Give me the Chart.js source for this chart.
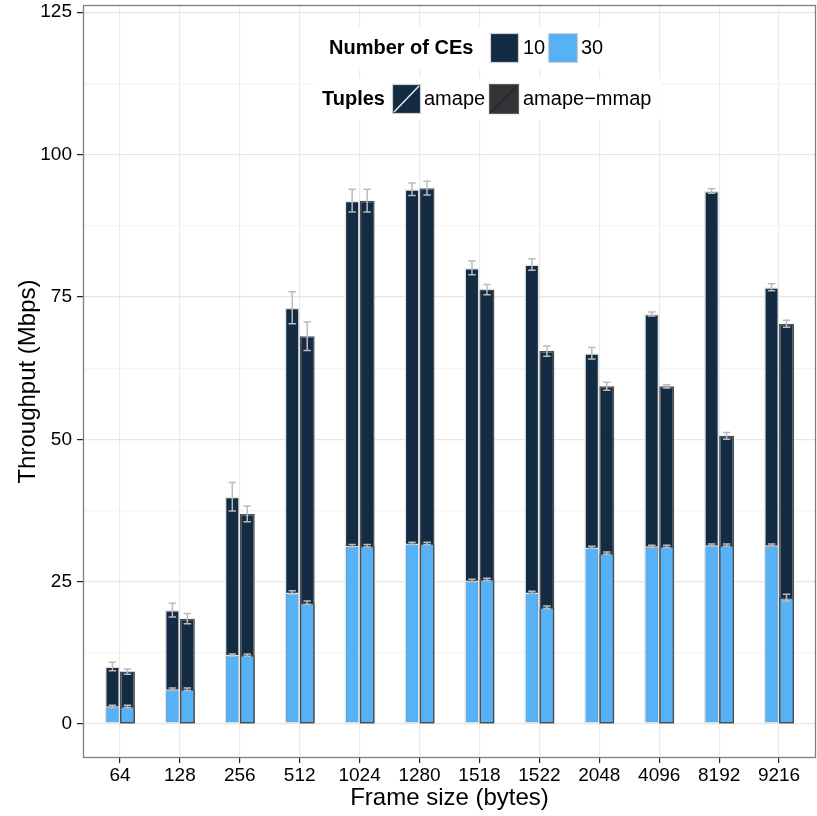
<!DOCTYPE html>
<html><head><meta charset="utf-8">
<script src="https://cdn.jsdelivr.net/npm/chart.js@4/dist/chart.umd.min.js"></script>
<style>html,body{margin:0;padding:0;background:#fff}</style>
</head><body>
<canvas id="c" width="817" height="816"></canvas>
<script>
// ---------- data ----------
const FRAME_SIZES = ['64','128','256','512','1024','1280','1518','1522','2048','4096','8192','9216'];
const AMAPE_CE10     = [10.1, 20.0, 39.9, 73.1, 91.9, 93.9, 80.1, 80.7, 65.1, 72.0, 93.6, 76.7];
const AMAPE_CE10_ERR = [0.75, 1.2, 2.5, 2.8, 2.0, 1.1, 1.2, 1.0, 1.0, 0.35, 0.4, 0.6];
const MMAP_CE10      = [9.2, 18.5, 36.9, 68.1, 91.9, 94.1, 76.3, 65.5, 59.3, 59.3, 50.6, 70.3];
const MMAP_CE10_ERR  = [0.45, 0.9, 1.4, 2.5, 2.0, 1.2, 0.9, 0.9, 0.7, 0.3, 0.6, 0.6];
const AMAPE_CE30     = [3.1, 6.1, 12.1, 23.1, 31.3, 31.7, 25.2, 23.1, 31.0, 31.2, 31.4, 31.4];
const AMAPE_CE30_ERR = [0.2, 0.2, 0.2, 0.3, 0.2, 0.2, 0.2, 0.2, 0.2, 0.2, 0.2, 0.2];
const MMAP_CE30      = [3.1, 6.1, 12.1, 21.3, 31.3, 31.7, 25.4, 20.5, 30.0, 31.2, 31.4, 22.2];
const MMAP_CE30_ERR  = [0.2, 0.2, 0.2, 0.3, 0.2, 0.2, 0.2, 0.2, 0.2, 0.2, 0.2, 0.6];
const Y_MAJOR = [0, 25, 50, 75, 100, 125];
const Y_MINOR = [12.5, 37.5, 62.5, 87.5, 112.5];
const CE_TITLE = 'Number of CEs';
const CE_LABELS = ['10', '30'];
const TUPLE_TITLE = 'Tuples';
const TUPLE_LABELS = ['amape', 'amape\u2212mmap'];

// ---------- style ----------
const FONT = "'Liberation Sans', Arial, Helvetica, sans-serif";
const NAVY = '#132B43', LIGHT = '#56B1F7';
const AMAPE_EDGE = '#e3e3e3', MMAP_EDGE = '#4d4d4d';

function ds(label, vals, errs, stack, fill, edge, order) {
  return {
    label, errs, stack, order,
    data: vals.map((v, i) => ({x: i, y: v})),
    backgroundColor: fill, borderColor: edge, borderWidth: 1.5, borderSkipped: false,
    categoryPercentage: 0.5, barPercentage: 1.0
  };
}

const errorBars = {
  id: 'errorBars',
  afterDatasetsDraw(chart) {
    const ctx = chart.ctx, ys = chart.scales.y;
    ctx.save();
    ctx.strokeStyle = '#bcbcbc';
    ctx.lineWidth = 1.5;
    chart.data.datasets.forEach((d, di) => {
      const meta = chart.getDatasetMeta(di);
      meta.data.forEach((el, i) => {
        const v = d.data[i].y, e = d.errs[i];
        const yt = ys.getPixelForValue(v + e), yb = ys.getPixelForValue(v - e);
        const hw = el.width * 0.25;
        ctx.beginPath();
        ctx.moveTo(el.x, yt); ctx.lineTo(el.x, yb);
        ctx.moveTo(el.x - hw, yt); ctx.lineTo(el.x + hw, yt);
        ctx.moveTo(el.x - hw, yb); ctx.lineTo(el.x + hw, yb);
        ctx.stroke();
      });
    });
    ctx.restore();
  }
};

const legendBox = {
  id: 'legendBox',
  afterDatasetsDraw(chart) {
    const ctx = chart.ctx;
    ctx.save();
    ctx.fillStyle = '#fff';
    ctx.fillRect(319, 27, 293, 43);
    ctx.fillRect(313, 78, 347, 42);
    ctx.textBaseline = 'middle';
    ctx.textAlign = 'left';
    ctx.fillStyle = '#000';
    ctx.font = 'bold 20px ' + FONT;
    ctx.fillText(CE_TITLE, 329, 48.5);
    ctx.fillText(TUPLE_TITLE, 322, 99.5);
    function key(x, y, w, h, fill, edge, diag) {
      ctx.fillStyle = fill; ctx.fillRect(x, y, w, h);
      ctx.strokeStyle = edge; ctx.lineWidth = 1.2; ctx.strokeRect(x + 0.5, y + 0.5, w - 1, h - 1);
      if (diag) {
        ctx.strokeStyle = diag; ctx.lineWidth = 1.5;
        ctx.beginPath(); ctx.moveTo(x + 2, y + h - 2); ctx.lineTo(x + w - 2, y + 2); ctx.stroke();
      }
    }
    key(490, 33, 29, 30, NAVY, '#d0d0d0');
    key(548, 33, 30, 30, LIGHT, '#d0d0d0');
    key(392, 84, 29, 30, NAVY, '#d0d0d0', '#e8e8e8');
    key(489, 84, 30, 30, '#333333', '#5a5a5a', NAVY);
    ctx.fillStyle = '#000';
    ctx.font = '20px ' + FONT;
    ctx.fillText(CE_LABELS[0], 523, 48.5);
    ctx.fillText(CE_LABELS[1], 581, 48.5);
    ctx.fillText(TUPLE_LABELS[0], 424, 99.5);
    ctx.fillText(TUPLE_LABELS[1], 523, 99.5);
    ctx.restore();
  }
};

const panelBorder = {
  id: 'panelBorder',
  afterDraw(chart) {
    const a = chart.chartArea, ctx = chart.ctx;
    ctx.save();
    ctx.strokeStyle = '#7f7f7f';
    ctx.lineWidth = 1.3;
    ctx.strokeRect(a.left - 0.5, a.top - 0.5, a.right - a.left + 1, a.bottom - a.top + 1);
    ctx.restore();
  }
};

new Chart(document.getElementById('c'), {
  type: 'bar',
  data: {
    datasets: [
      ds('amape 30', AMAPE_CE30, AMAPE_CE30_ERR, 'amape', LIGHT, AMAPE_EDGE, 0),
      ds('amape-mmap 30', MMAP_CE30, MMAP_CE30_ERR, 'mmap', LIGHT, MMAP_EDGE, 0),
      ds('amape 10', AMAPE_CE10, AMAPE_CE10_ERR, 'amape', NAVY, AMAPE_EDGE, 1),
      ds('amape-mmap 10', MMAP_CE10, MMAP_CE10_ERR, 'mmap', NAVY, MMAP_EDGE, 1)
    ]
  },
  options: {
    responsive: false, animation: false, devicePixelRatio: 1,
    layout: {padding: {top: 6, right: 2, left: 0, bottom: 0}},
    plugins: {legend: {display: false}, tooltip: {enabled: false}},
    scales: {
      x: {
        type: 'linear', min: -0.6, max: 11.6, offset: false, stacked: true, bounds: 'data',
        afterBuildTicks: a => { a.ticks = FRAME_SIZES.map((_, i) => ({value: i})); },
        afterFit: a => { a.height = 59; a.paddingLeft = 0; a.paddingRight = 0; },
        ticks: {callback: v => FRAME_SIZES[v] ?? '', font: {size: 19, family: FONT}, color: '#000',
                padding: 1, maxRotation: 0, autoSkip: false},
        grid: {color: '#ebebeb', lineWidth: 1.2, tickLength: 6, tickColor: '#222', tickWidth: 1.2, offset: false},
        border: {display: false},
        title: {display: true, text: 'Frame size (bytes)', font: {size: 24, family: FONT}, color: '#000',
                padding: {top: 0, bottom: 3}}
      },
      y: {
        type: 'linear', min: -5.8, max: 126.1, stacked: false, bounds: 'data',
        afterBuildTicks: a => { a.ticks = Y_MAJOR.concat(Y_MINOR).sort((p, q) => p - q).map(v => ({value: v})); },
        afterFit: a => { a.width = 84; a.paddingTop = 0; a.paddingBottom = 0; },
        ticks: {callback: v => Y_MAJOR.includes(v) ? String(v) : '', font: {size: 19, family: FONT}, color: '#000',
                padding: 5, autoSkip: false},
        grid: {
          color: c => Y_MAJOR.includes(c.tick.value) ? '#e6e6e6' : '#f4f4f4',
          lineWidth: 1.2, tickLength: 7, tickWidth: 1.2,
          tickColor: c => Y_MAJOR.includes(c.tick.value) ? '#222' : 'rgba(0,0,0,0)'
        },
        border: {display: false},
        title: {display: true, text: 'Throughput (Mbps)', font: {size: 24, family: FONT}, color: '#000',
                padding: {top: 14, bottom: 0}}
      }
    }
  },
  plugins: [errorBars, legendBox, panelBorder]
});
</script>
</body></html>
